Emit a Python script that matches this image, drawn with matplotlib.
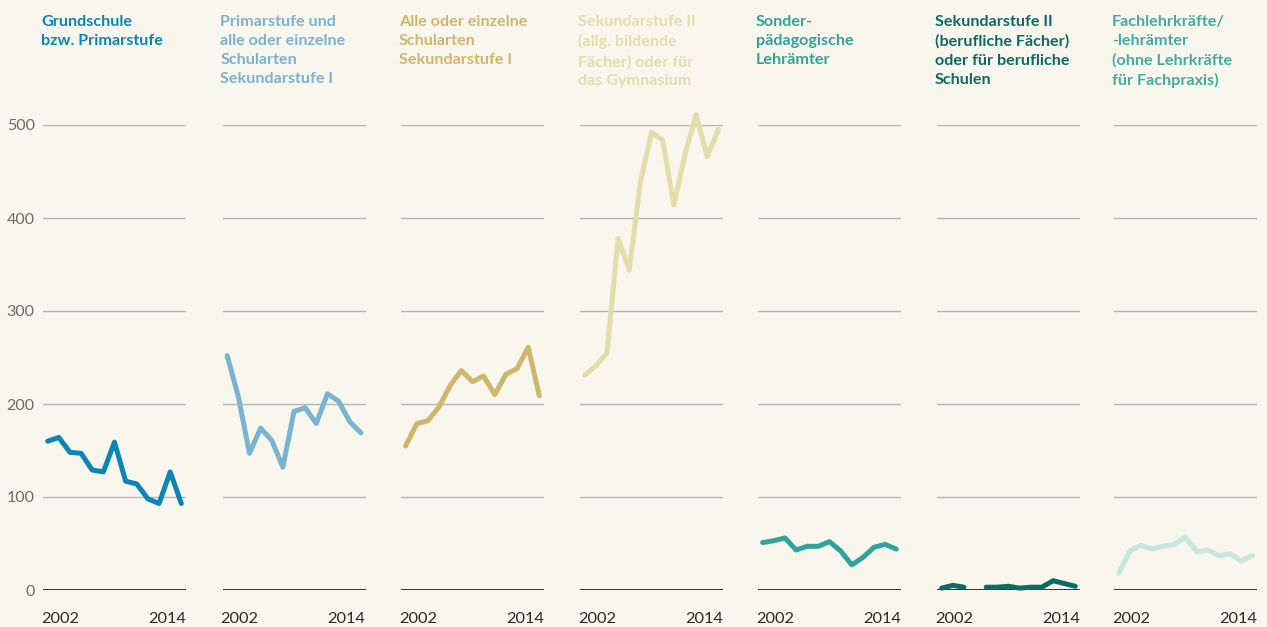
import numpy as np
import matplotlib.pyplot as plt

years = list(range(2002, 2015))

titles = [
    "Grundschule\nbzw. Primarstufe",
    "Primarstufe und\nalle oder einzelne\nSchularten\nSekundarstufe I",
    "Alle oder einzelne\nSchularten\nSekundarstufe I",
    "Sekundarstufe II\n(allg. bildende\nFächer) oder für\ndas Gymnasium",
    "Sonder-\npädagogische\nLehrämter",
    "Sekundarstufe II\n(berufliche Fächer)\noder für berufliche\nSchulen",
    "Fachlehrkräfte/\n-lehrämter\n(ohne Lehrkräfte\nfür Fachpraxis)",
]

grundschule = [160, 164, 148, 147, 129, 127, 159, 117, 114, 98, 93, 127, 93]
primar_sek1 = [252, 208, 147, 174, 161, 132, 192, 196, 179, 211, 203, 181, 169]
sek1 = [155, 179, 182, 197, 220, 236, 224, 230, 210, 232, 238, 261, 209]
sek2_gym = [231, 241, 255, 378, 344, 438, 492, 484, 414, 468, 511, 466, 495]
sonder = [51, 53, 56, 43, 47, 47, 52, 42, 27, 35, 46, 49, 44]
sek2_beruf = [2, 5, 3, np.nan, 3, 3, 4, 2, 3, 3, 10, 7, 4]
fachlehr = [18, 42, 48, 44, 47, 49, 57, 41, 43, 37, 39, 31, 37]

series = [grundschule, primar_sek1, sek1, sek2_gym, sonder, sek2_beruf, fachlehr]
line_colors = ["#0a85b5", "#79b3d0", "#ceb66c", "#e3dcab", "#31a39a", "#0b6b63", "#c6e6df"]
title_colors = ["#0a85b5", "#79b3d0", "#ceb66c", "#e3dcab", "#31a39a", "#0b6b63", "#45aaa0"]

yticks = [0, 100, 200, 300, 400, 500]
xlabels = ["2002", "2014"]

bg = "#f9f6ee"
plt.rcParams['font.family'] = ['Lato', 'DejaVu Sans']

W, H = 1267, 627
fig = plt.figure(figsize=(W / 100, H / 100), dpi=100, facecolor=bg)

lefts = [43, 222.5, 401, 580, 758, 937, 1114]
pw = 143
bottom_px, top_px = 590, 125

for i, (vals, title) in enumerate(zip(series, titles)):
    ax = fig.add_axes([lefts[i] / W, (H - bottom_px) / H, pw / W, (bottom_px - top_px) / H])
    ax.set_facecolor(bg)
    ax.set_xlim(2001.58, 2014.42)
    ax.set_ylim(0, 500)
    for s in ax.spines.values():
        s.set_visible(False)
    for y in yticks[1:]:
        ax.axhline(y, color="#b4b4b0", lw=1.0, zorder=1)
    ax.axhline(0, color="#222222", lw=1.3, zorder=1)
    ax.plot(years, vals, color=line_colors[i], lw=3.6, solid_capstyle='round',
            solid_joinstyle='round', clip_on=False, zorder=3)
    ax.set_xticks([])
    # year labels sit flush with the ends of the axis
    ax.text(-0.015, -0.048, xlabels[0], transform=ax.transAxes, ha='left', va='top',
            fontsize=11.8, color="#2a2a2a")
    ax.text(1.0, -0.048, xlabels[1], transform=ax.transAxes, ha='right', va='top',
            fontsize=11.8, color="#2a2a2a")
    if i == 0:
        ax.set_yticks(yticks)
        ax.tick_params(axis='y', length=0, pad=6, labelsize=11.5, labelcolor="#6a6a6a")
    else:
        ax.set_yticks([])
    fig.text((lefts[i] - 2) / W, 1 - 15 / H, title, ha='left', va='top', fontsize=11.6,
             fontweight='bold', color=title_colors[i], linespacing=1.45)

fig.savefig("out.png", dpi=100, facecolor=bg)
